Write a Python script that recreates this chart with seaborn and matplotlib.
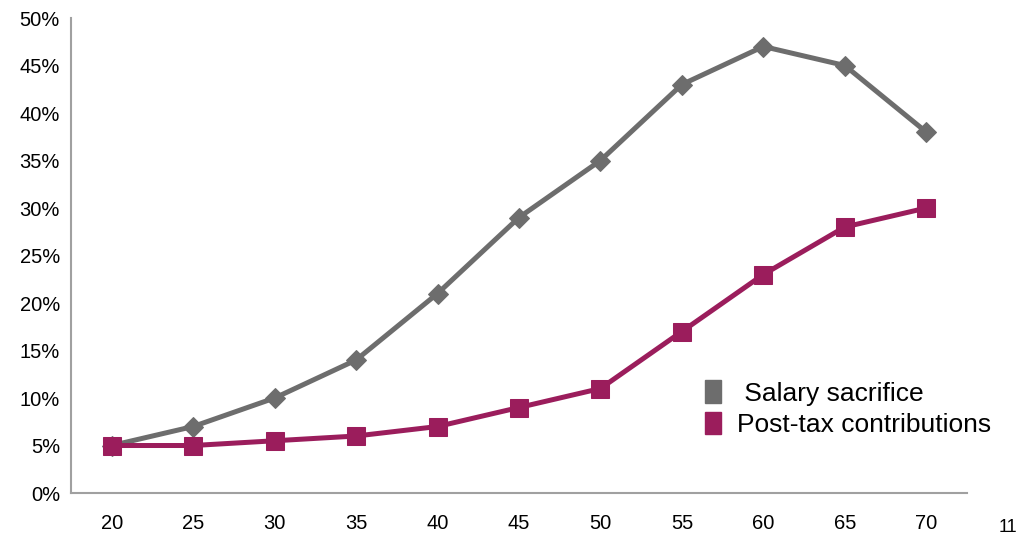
import matplotlib
matplotlib.use("Agg")
import numpy as np
import pandas as pd
import seaborn as sns
import matplotlib.pyplot as plt
from matplotlib.patches import Patch

ages = [20, 25, 30, 35, 40, 45, 50, 55, 60, 65, 70]
salary_sacrifice = [5, 7, 10, 14, 21, 29, 35, 43, 47, 45, 38]
post_tax = [5, 5, 5.5, 6, 7, 9, 11, 17, 23, 28, 30]
series_names = ["Salary sacrifice", "Post-tax contributions"]
yticks = list(range(0, 55, 5))

grey = "#6D6D6D"
purple = "#9B1D5C"

sns.set_theme(style="white")
plt.rcParams["font.family"] = ["Liberation Sans", "DejaVu Sans"]
plt.rcParams["text.color"] = "black"

fig = plt.figure(figsize=(10.2, 5.36), dpi=100)
ax = fig.add_axes([0.0696, 0.0802, 0.8784, 0.8862])

df = pd.DataFrame({"age": ages, "ss": salary_sacrifice, "pt": post_tax})
sns.lineplot(data=df, x="age", y="ss", ax=ax, color=grey, lw=3.6,
             marker="D", markersize=10.5, markeredgecolor=grey)
sns.lineplot(data=df, x="age", y="pt", ax=ax, color=purple, lw=3.6,
             marker="s", markersize=13, markeredgecolor=purple)

ax.set_xlim(17.5, 72.5)
ax.set_ylim(0, 50)
ax.set_xticks(ages)
ax.set_xticklabels([str(a) for a in ages], fontsize=14.5)
ax.set_yticks(yticks)
ax.set_yticklabels([f"{v}%" for v in yticks], fontsize=14.5)
ax.set_xlabel("")
ax.set_ylabel("")
ax.tick_params(axis="both", length=0, colors="black")
ax.tick_params(axis="x", pad=15)
ax.tick_params(axis="y", pad=8)
for s in ["top", "right"]:
    ax.spines[s].set_visible(False)
for s in ["left", "bottom"]:
    ax.spines[s].set_color("#A0A0A0")
    ax.spines[s].set_linewidth(1.5)

handles = [Patch(color=grey), Patch(color=purple)]
leg = ax.legend(handles, [" " + series_names[0], series_names[1]], loc="lower left",
                bbox_to_anchor=(0.708, 0.118), frameon=False, fontsize=19,
                handlelength=0.6, handleheight=0.95, handletextpad=0.6,
                labelspacing=0.22, borderaxespad=0, borderpad=0)
for t in leg.get_texts():
    t.set_color("black")

fig.text(0.997, 0.0, "11", fontsize=13, ha="right", va="bottom")

fig.savefig("out.png", dpi=100)
